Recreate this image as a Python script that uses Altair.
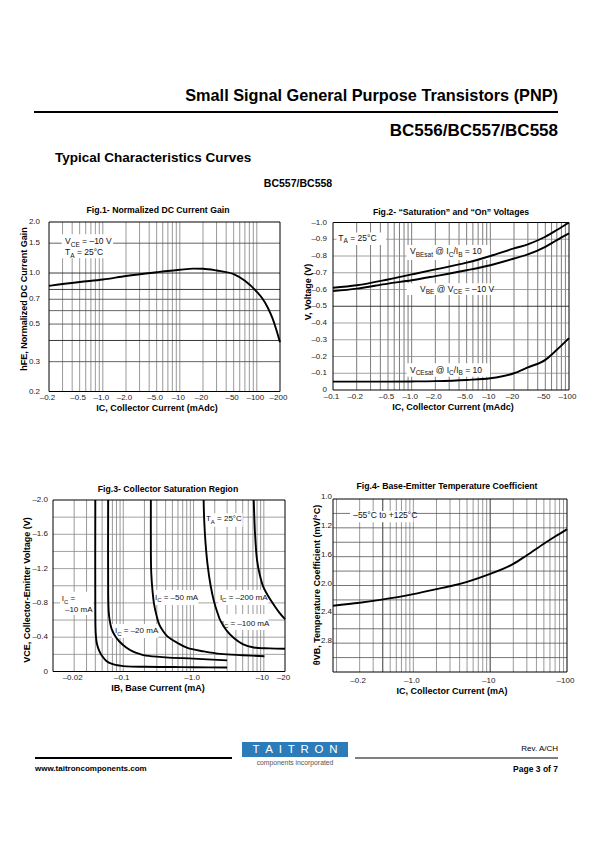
import altair as alt
import pandas as pd

# ---------------- data (magnitudes; the tick labels carry the minus signs) ----------------
# Fig.1  normalized hFE vs |IC| (mA)
F1_IC = [0.2, 0.5, 1, 2, 5, 10, 15, 20, 30, 50, 70, 100, 120, 140, 160, 180, 200]
F1_HFE = [0.84, 0.885, 0.915, 0.96, 1.01, 1.045, 1.062, 1.06, 1.035, 0.985, 0.9, 0.775, 0.7, 0.62, 0.54, 0.46, 0.39]

# Fig.2  |V| vs |IC| (mA)
F2_IC = [0.1, 0.2, 0.5, 1, 2, 5, 10, 20, 30, 50, 70, 100]
F2_VBESAT = [0.61, 0.625, 0.66, 0.69, 0.72, 0.76, 0.80, 0.845, 0.87, 0.915, 0.955, 1.0]
F2_VBE = [0.59, 0.605, 0.635, 0.655, 0.68, 0.715, 0.745, 0.785, 0.81, 0.855, 0.895, 0.935]
F2_VCESAT = [0.05, 0.05, 0.05, 0.051, 0.053, 0.06, 0.07, 0.10, 0.135, 0.18, 0.24, 0.31]

# Fig.3  |VCE| vs |IB| (mA) for several IC
F3_IB_10 = [0.040, 0.040, 0.0405, 0.042, 0.045, 0.05, 0.058, 0.071, 0.09, 0.11, 0.2, 0.5, 1.0, 3.0]
F3_V_10 = [2.0, 0.7, 0.45, 0.33, 0.25, 0.18, 0.12, 0.085, 0.068, 0.06, 0.055, 0.052, 0.05, 0.047]
F3_IB_20 = [0.061, 0.061, 0.062, 0.064, 0.068, 0.077, 0.088, 0.11, 0.136, 0.17, 0.21, 0.4, 1.0, 3.0]
F3_V_20 = [2.0, 0.9, 0.7, 0.6, 0.5, 0.41, 0.35, 0.28, 0.235, 0.205, 0.185, 0.165, 0.15, 0.13]
F3_IB_50 = [0.247, 0.247, 0.25, 0.26, 0.275, 0.3, 0.324, 0.37, 0.425, 0.6, 0.817, 1.4, 2.42, 5.0, 10.2]
F3_V_50 = [2.0, 1.4, 1.15, 0.95, 0.78, 0.64, 0.55, 0.47, 0.41, 0.33, 0.275, 0.235, 0.205, 0.19, 0.178]
F3_IB_100 = [1.39, 1.42, 1.48, 1.58, 1.75, 1.95, 2.2, 2.42, 3.0, 3.74, 5.0, 7.2, 12, 20]
F3_V_100 = [2.0, 1.75, 1.5, 1.25, 1.0, 0.82, 0.68, 0.59, 0.47, 0.39, 0.32, 0.28, 0.27, 0.265]
F3_IB_200 = [7.18, 7.5, 8.0, 8.8, 9.9, 11.5, 13.8, 16.5, 20]
F3_V_200 = [2.0, 1.6, 1.3, 1.12, 0.98, 0.88, 0.78, 0.69, 0.61]

# Fig.4  temperature coefficient vs |IC| (mA)
F4_IC = [0.09, 0.2, 0.37, 1, 2, 3.3, 5, 10, 20, 30, 50, 70, 100]
F4_THETA = [2.28, 2.24, 2.2, 2.12, 2.05, 2.0, 1.95, 1.84, 1.7, 1.58, 1.42, 1.32, 1.22]

# tick values and labels
F1_XT = [0.2, 0.5, 1, 2, 5, 10, 20, 50, 100, 200]
F1_XL = ["–0.2", "–0.5", "–1.0", "–2.0", "–5.0", "–10", "–20", "–50", "–100", "–200"]
F1_YT = [0.2, 0.3, 0.5, 0.7, 1.0, 1.5, 2.0]
F1_YL = ["0.2", "0.3", "0.5", "0.7", "1.0", "1.5", "2.0"]
F2_XT = [0.1, 0.2, 0.5, 1, 2, 5, 10, 20, 50, 100]
F2_XL = ["–0.1", "–0.2", "–0.5", "–1.0", "–2.0", "–5.0", "–10", "–20", "–50", "–100"]
F2_YT = [0, 0.1, 0.2, 0.3, 0.4, 0.5, 0.6, 0.7, 0.8, 0.9, 1.0]
F2_YL = ["0", "–0.1", "–0.2", "–0.3", "–0.4", "–0.5", "–0.6", "–0.7", "–0.8", "–0.9", "–1.0"]
F3_XT = [0.02, 0.1, 1, 10, 20]
F3_XL = ["–0.02", "–0.1", "–1.0", "–10", "–20"]
F3_YT = [0, 0.4, 0.8, 1.2, 1.6, 2.0]
F3_YL = ["0", "–0.4", "–0.8", "–1.2", "–1.6", "–2.0"]
F4_XT = [0.2, 1, 10, 100]
F4_XL = ["–0.2", "–1.0", "–10", "–100"]
F4_YT = [0.8, 1.2, 1.6, 2.0, 2.4, 2.8]
F4_YL = ["1.0", "1.2", "1.6", "2.0", "2.4", "2.8"]

# horizontal grid values (light / dark)
F1_HG = [0.3, 0.4, 0.5, 0.6, 0.7, 0.8, 1.0, 1.5]
F1_HG_DARK = [0.4, 0.8, 1.0]
F2_HG = [0.1, 0.2, 0.3, 0.4, 0.5, 0.6, 0.7, 0.8, 0.9]
F2_HG_DARK = [0.5]
F3_HG = [0.2, 0.4, 0.6, 0.8, 1.0, 1.2, 1.4, 1.6, 1.8]
F4_HG = [1.0, 1.2, 1.4, 1.6, 1.8, 2.0, 2.2, 2.4, 2.6, 2.8, 3.0]
F4_VG_DARK = [0.4, 10]

# ---------------- layout / style ----------------
OFF = 8
W, H = 579, 826
FONT = "Liberation Sans, Arial, sans-serif"
NARROW = "Liberation Sans Narrow, Arial Narrow, Liberation Sans, sans-serif"
DARK = "#222222"


def pg(v):
    return v - OFF


FIGS = {
    "f1": dict(xd=[0.2, 200], yd=[0.2, 2.0], xt="log", yt="log", x0=49, x1=280, ytop=222, ybot=391.5),
    "f2": dict(xd=[0.1, 100], yd=[0.0, 1.0], xt="log", yt="linear", x0=333, x1=569, ytop=222.5, ybot=390),
    "f3": dict(xd=[0.01, 20], yd=[0.0, 2.0], xt="log", yt="linear", x0=53, x1=285, ytop=500, ybot=671.5),
    "f4": dict(xd=[0.09, 100], yd=[0.8, 3.2], xt="log", yt="linear", x0=333, x1=567, ytop=499, ybot=672, rev=True),
}

CW = {' ': 278, '=': 584, '–': 556, '-': 333, '.': 278, '/': 278, '@': 1015, '°': 400, '+': 584,
      'A': 667, 'B': 667, 'C': 722, 'E': 667, 'I': 278, 'T': 611, 'V': 667,
      'a': 556, 'c': 500, 'e': 556, 'm': 833, 'o': 556, 's': 500, 't': 278}


def tw(s, size):
    return sum(CW.get(ch, 556) for ch in s) / 1000.0 * size


def scales(cfg):
    if cfg["xt"] == "log":
        sx = alt.Scale(type="log", domain=cfg["xd"], range=[pg(cfg["x0"]), pg(cfg["x1"])], nice=False)
    else:
        sx = alt.Scale(type="linear", domain=cfg["xd"], range=[pg(cfg["x0"]), pg(cfg["x1"])], nice=False, zero=False)
    yr = [pg(cfg["ytop"]), pg(cfg["ybot"])] if cfg.get("rev") else [pg(cfg["ybot"]), pg(cfg["ytop"])]
    if cfg["yt"] == "log":
        sy = alt.Scale(type="log", domain=cfg["yd"], range=yr, nice=False)
    else:
        sy = alt.Scale(type="linear", domain=cfg["yd"], range=yr, nice=False, zero=False)
    return sx, sy


def log_grid(lo, hi):
    out = []
    for e in range(-3, 4):
        for m in range(1, 10):
            v = round(m * 10 ** e, 8)
            if lo * 1.01 < v < hi * 0.99:
                out.append(v)
    return out


def vgrid_table(values, dark, light_col, lo, hi):
    rows = []
    for v in values:
        is_dark = any(abs(v - d) < 1e-9 for d in dark)
        rows.append({"g": v, "a": lo, "b": hi,
                     "c": DARK if is_dark else light_col, "w": 0.9 if is_dark else 0.7})
    return pd.DataFrame(rows)


def hgrid_points(values, dark, light_col, light_w, lo, hi):
    # each horizontal grid line as a two-point polyline
    rows = []
    for i, v in enumerate(values):
        is_dark = any(abs(v - d) < 1e-9 for d in dark)
        for k, xv in enumerate([lo, hi]):
            rows.append({"hx": xv, "hy": v, "hid": "h%d" % i, "hk": k,
                         "hc": DARK if is_dark else light_col, "hw": 0.9 if is_dark else light_w})
    return pd.DataFrame(rows)


def seg_text(sx, sy, x, y, segs, fs=8.5, sub=6.5, dysub=2.5):
    cum = 0.0
    out = []
    for txt_, is_sub in segs:
        size = sub if is_sub else fs
        lead = len(txt_) - len(txt_.lstrip(" "))
        core = txt_.strip(" ")
        dx = cum + tw(" " * lead, size)
        if core:
            out.append(
                alt.Chart(pd.DataFrame({"x": [x], "y": [y], "t": [core]}))
                .mark_text(align="left", baseline="alphabetic", dx=dx, dy=(dysub if is_sub else 0),
                           fontSize=size, font=FONT, color="#111")
                .encode(x=alt.X("x:Q", scale=sx, axis=None), y=alt.Y("y:Q", scale=sy, axis=None), text="t:N")
            )
        cum += tw(txt_, size)
    return out


def figure(cfg, xticks, yticks, vgrid, hgrid, dark_v, dark_h, curves, interp, boxes, labels,
           vcol="#6e6e6e", hcol="#8a8a8a", hw=0.8, fs=8.5, sub=6.5, xlab_dy=6, ylab_pad=5, ylab_base="middle"):
    sx, sy = scales(cfg)
    lo_x, hi_x = cfg["xd"]
    lo_y, hi_y = cfg["yd"]
    bottom_val = hi_y if cfg.get("rev") else lo_y
    NA = None
    layers = []
    layers.append(
        alt.Chart(vgrid_table(vgrid, dark_v, vcol, lo_y, hi_y)).mark_rule().encode(
            x=alt.X("g:Q", scale=sx, axis=NA),
            y=alt.Y("a:Q", scale=sy, axis=NA), y2="b:Q",
            color=alt.Color("c:N", scale=None), strokeWidth=alt.StrokeWidth("w:Q", scale=None)))
    layers.append(
        alt.Chart(hgrid_points(hgrid, dark_h, hcol, hw, lo_x, hi_x)).mark_line(interpolate="linear").encode(
            x=alt.X("hx:Q", scale=sx, axis=NA),
            y=alt.Y("hy:Q", scale=sy, axis=NA),
            detail="hid:N", order="hk:Q",
            color=alt.Color("hc:N", scale=None), strokeWidth=alt.StrokeWidth("hw:Q", scale=None)))
    if boxes:
        bdf = pd.DataFrame(boxes, columns=["x1", "x2", "y1", "y2"])
        layers.append(
            alt.Chart(bdf).mark_rect(color="white").encode(
                x=alt.X("x1:Q", scale=sx, axis=NA), x2="x2:Q",
                y=alt.Y("y1:Q", scale=sy, axis=NA), y2="y2:Q"))
    rows = []
    for name, xs, ys in curves:
        for i, (a, b) in enumerate(zip(xs, ys)):
            rows.append({"x": a, "y": b, "s": name, "o": i})
    layers.append(
        alt.Chart(pd.DataFrame(rows)).mark_line(color="black", strokeWidth=1.9, interpolate=interp).encode(
            x=alt.X("x:Q", scale=sx, axis=NA), y=alt.Y("y:Q", scale=sy, axis=NA),
            detail="s:N", order="o:Q"))
    layers.append(
        alt.Chart(pd.DataFrame({"x1": [lo_x], "x2": [hi_x], "y1": [lo_y], "y2": [hi_y]}))
        .mark_rect(fillOpacity=0, stroke="black", strokeWidth=1).encode(
            x=alt.X("x1:Q", scale=sx, axis=NA), x2="x2:Q",
            y=alt.Y("y1:Q", scale=sy, axis=NA), y2="y2:Q"))
    # tick labels drawn through the figure's scales
    xt, xl = xticks
    layers.append(
        alt.Chart(pd.DataFrame({"tv": xt, "tl": xl, "ty": [bottom_val] * len(xt)})).mark_text(
            align="center", baseline="middle", dx=-1.5, dy=xlab_dy, font=NARROW, fontSize=8, color="#1a1a1a"
        ).encode(x=alt.X("tv:Q", scale=sx, axis=NA), y=alt.Y("ty:Q", scale=sy, axis=NA), text="tl:N"))
    yt, yl = yticks
    layers.append(
        alt.Chart(pd.DataFrame({"tv": yt, "tl": yl, "tx": [lo_x] * len(yt)})).mark_text(
            align="right", baseline=ylab_base, dx=-ylab_pad, font=NARROW, fontSize=8, color="#1a1a1a"
        ).encode(y=alt.Y("tv:Q", scale=sy, axis=NA), x=alt.X("tx:Q", scale=sx, axis=NA), text="tl:N"))
    for lab in labels:
        layers.extend(seg_text(sx, sy, lab[0], lab[1], lab[2], fs=fs, sub=sub))
    return alt.layer(*layers)


M, S = False, True
f1c, f2c, f3c, f4c = FIGS["f1"], FIGS["f2"], FIGS["f3"], FIGS["f4"]

fig1 = figure(
    f1c, (F1_XT, F1_XL), (F1_YT, F1_YL),
    log_grid(0.2, 200), F1_HG, [], F1_HG_DARK,
    [("hfe", F1_IC, F1_HFE)], "monotone",
    [(0.292, 1.36, 1.692, 1.221)],
    [(0.323, 1.476, [("V", M), ("CE", S), (" = –10 V", M)]),
     (0.323, 1.277, [("T", M), ("A", S), (" = 25°C", M)])],
    hcol="#555555", hw=0.9, xlab_dy=6.5, ylab_pad=9)

fig2 = figure(
    f2c, (F2_XT, F2_XL), (F2_YT, F2_YL),
    log_grid(0.1, 100), F2_HG, [], F2_HG_DARK,
    [("vbesat", F2_IC, F2_VBESAT), ("vbe", F2_IC, F2_VBE), ("vcesat", F2_IC, F2_VCESAT)], "monotone",
    [(0.111, 0.472, 0.941, 0.866), (0.865, 9.9, 0.866, 0.776), (0.865, 10.4, 0.637, 0.567),
     (0.865, 9.9, 0.159, 0.079)],
    [(0.117, 0.89, [("T", M), ("A", S), (" = 25°C", M)]),
     (0.952, 0.81, [("V", M), ("BEsat", S), (" @ I", M), ("C", S), ("/I", M), ("B", S), (" = 10", M)]),
     (1.276, 0.587, [("V", M), ("BE", S), (" @ V", M), ("CE", S), (" = –10 V", M)]),
     (0.952, 0.103, [("V", M), ("CEsat", S), (" @ I", M), ("C", S), ("/I", M), ("B", S), (" = 10", M)])],
    vcol="#444", xlab_dy=7, ylab_pad=6)

fig3 = figure(
    f3c, (F3_XT, F3_XL), (F3_YT, F3_YL),
    log_grid(0.01, 20), F3_HG, [], [],
    [("i10", F3_IB_10, F3_V_10), ("i20", F3_IB_20, F3_V_20), ("i50", F3_IB_50, F3_V_50),
     ("i100", F3_IB_100, F3_V_100), ("i200", F3_IB_200, F3_V_200)], "catmull-rom",
    [(0.0126, 0.0374, 0.93, 0.659), (0.069, 0.312, 0.554, 0.39), (0.267, 1.17, 0.95, 0.775),
     (2.25, 11.6, 0.95, 0.775), (2.3, 11.6, 0.67, 0.484), (1.45, 5.0, 1.845, 1.689)],
    [(0.0133, 0.822, [("I", M), ("C", S), (" =", M)]),
     (0.0148, 0.697, [("–10 mA", M)]),
     (0.0762, 0.445, [("I", M), ("C", S), (" = –20 mA", M)]),
     (0.282, 0.834, [("I", M), ("C", S), (" = –50 mA", M)]),
     (2.37, 0.834, [("I", M), ("C", S), (" = –200 mA", M)]),
     (2.51, 0.534, [("I", M), ("C", S), (" = –100 mA", M)]),
     (1.5, 1.755, [("T", M), ("A", S), (" = 25°C", M)])],
    fs=8, sub=6, xlab_dy=6.5, ylab_pad=5)

fig4 = figure(
    f4c, (F4_XT, F4_XL), (F4_YT, F4_YL),
    log_grid(0.09, 100), F4_HG, F4_VG_DARK, [],
    [("theta", F4_IC, F4_THETA)], "monotone",
    [(0.150, 1.001, 0.966, 1.123)],
    [(0.1647, 1.068, [("–55°C to +125°C", M)])],
    hcol="#555", xlab_dy=9, ylab_pad=1, ylab_base="alphabetic")


# ---------------- page decoration ----------------
def txt(t, x, y, size, weight="normal", align="left", color="#000", font=FONT, angle=0):
    return alt.Chart(pd.DataFrame({"t": [t]})).mark_text(
        align=align, baseline="middle", fontSize=size, fontWeight=weight, color=color, font=font, angle=angle
    ).encode(x=alt.value(pg(x)), y=alt.value(pg(y)), text="t:N")


def hline(x1, x2, y, w, color="#000"):
    return alt.Chart(pd.DataFrame({"k": [0]})).mark_rule(color=color, strokeWidth=w).encode(
        x=alt.value(pg(x1)), x2=alt.value(pg(x2)), y=alt.value(pg(y)))


decor = [
    txt("Small Signal General Purpose Transistors (PNP)", 558, 96, 16.3, "bold", "right"),
    hline(34, 558, 112, 2),
    txt("BC556/BC557/BC558", 558, 131, 17, "bold", "right"),
    txt("Typical Characteristics Curves", 55, 158, 13.5, "bold"),
    txt("BC557/BC558", 298, 184, 10.5, "bold", "center"),
    # figure titles
    txt("Fig.1- Normalized DC Current Gain", 158, 210, 8.7, "bold", "center"),
    txt("Fig.2- “Saturation” and “On” Voltages", 451, 211.5, 8.7, "bold", "center"),
    txt("Fig.3- Collector Saturation Region", 168, 489, 8.7, "bold", "center"),
    txt("Fig.4- Base-Emitter Temperature Coefficient", 447, 485.5, 8.7, "bold", "center"),
    # axis titles
    txt("IC, Collector Current (mAdc)", 157, 408, 9, "bold", "center"),
    txt("hFE, Normalized DC Current Gain", 24, 299, 9, "bold", "center", angle=270),
    txt("IC, Collector Current (mAdc)", 453, 407, 9, "bold", "center"),
    txt("V, Voltage (V)", 308, 292, 9, "bold", "center", angle=270),
    txt("IB, Base Current (mA)", 158, 688, 9, "bold", "center"),
    txt("VCE, Collector-Emitter Voltage (V)", 27, 590, 9, "bold", "center", angle=270),
    txt("IC, Collector Current (mA)", 452, 691, 9, "bold", "center"),
    txt("θVB, Temperature Coefficient (mV/°C)", 317, 585, 9, "bold", "center", angle=270),
    # footer
    hline(35, 232, 758, 2),
    hline(355, 558, 758, 1.2),
    alt.Chart(pd.DataFrame({"k": [0]})).mark_rect(color="#2b7cb8").encode(
        x=alt.value(pg(242)), x2=alt.value(pg(348)), y=alt.value(pg(742)), y2=alt.value(pg(757))),
    txt("T\u2002A\u2002I\u2002T\u2002R\u2002O\u2002N", 295, 749.5, 11.5, "normal", "center", "#ffffff"),
    txt("components incorporated", 295, 763, 6.8, "normal", "center", "#555"),
    txt("Rev. A/CH", 558, 749, 8, "normal", "right"),
    txt("www.taitroncomponents.com", 35, 769, 8, "bold"),
    txt("Page 3 of 7", 558, 769, 8.5, "bold", "right"),
]

chart = (
    alt.layer(fig1, fig2, fig3, fig4, *decor)
    .resolve_scale(x="independent", y="independent")
    .properties(width=W, height=H, padding=0, autosize=alt.AutoSizeParams(type="none"))
    .configure_view(strokeWidth=0)
)

chart.save("out.html", embed_options={"renderer": "svg", "actions": False})
